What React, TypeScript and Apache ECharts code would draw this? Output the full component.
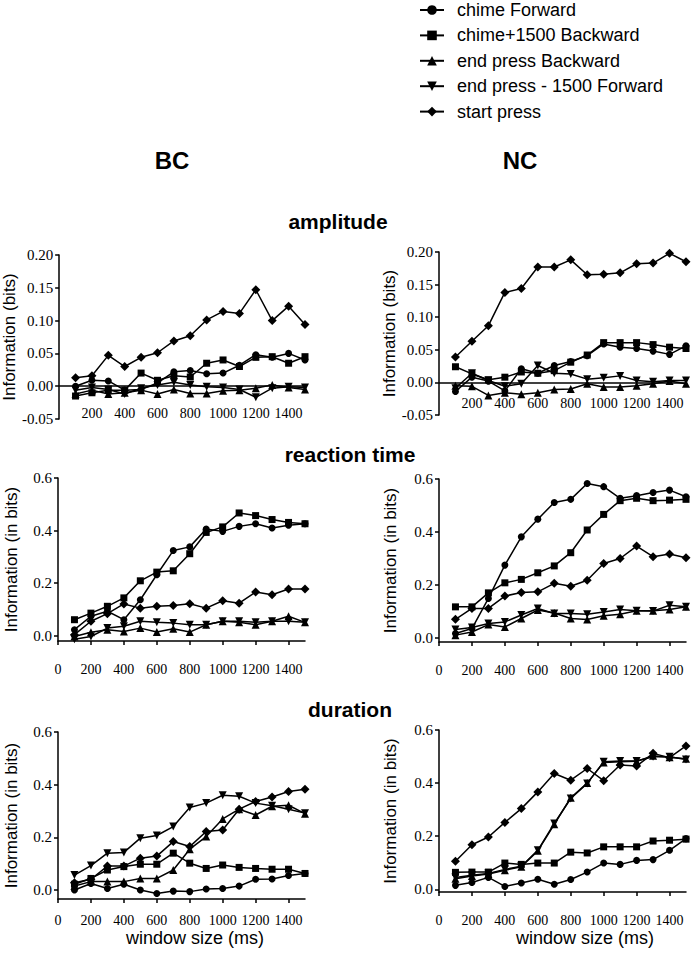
import React, { useEffect, useRef } from "react";
import * as echarts from "echarts";

const X = [100, 200, 300, 400, 500, 600, 700, 800, 900, 1000, 1100, 1200, 1300, 1400, 1500];
const NAMES = ["chime Forward", "chime+1500 Backward", "end press Backward", "end press - 1500 Forward", "start press"];

// amplitude
const AMP_BC_CHIME = [0.000, 0.009, 0.008, -0.006, -0.005, 0.005, 0.022, 0.024, 0.019, 0.020, 0.032, 0.048, 0.044, 0.050, 0.040];
const AMP_BC_CHIME1500 = [-0.015, -0.010, -0.006, -0.006, 0.020, 0.009, 0.016, 0.014, 0.035, 0.040, 0.030, 0.044, 0.045, 0.035, 0.045];
const AMP_BC_ENDB = [-0.012, -0.006, -0.012, -0.010, -0.006, -0.012, -0.005, -0.011, -0.011, -0.007, -0.006, -0.003, 0.002, -0.002, -0.005];
const AMP_BC_ENDF = [-0.006, -0.002, -0.005, -0.012, -0.003, 0.002, 0.006, 0.002, -0.001, -0.002, -0.005, -0.017, -0.003, -0.001, -0.002];
const AMP_BC_START = [0.013, 0.016, 0.047, 0.030, 0.044, 0.051, 0.069, 0.077, 0.101, 0.114, 0.111, 0.147, 0.100, 0.122, 0.094];

const AMP_NC_CHIME = [-0.014, 0.008, 0.002, -0.013, 0.021, 0.014, 0.026, 0.032, 0.041, 0.059, 0.054, 0.052, 0.048, 0.043, 0.056];
const AMP_NC_CHIME1500 = [0.024, 0.013, 0.004, 0.008, 0.016, 0.014, 0.018, 0.031, 0.042, 0.061, 0.061, 0.061, 0.058, 0.054, 0.052];
const AMP_NC_ENDB = [-0.005, -0.006, -0.020, -0.016, -0.018, -0.016, -0.011, -0.010, -0.002, -0.007, -0.007, -0.005, -0.002, 0.002, -0.002];
const AMP_NC_ENDF = [-0.009, 0.014, 0.003, -0.006, -0.002, 0.026, 0.014, 0.013, 0.005, 0.007, 0.010, 0.003, 0.001, 0.003, 0.003];
const AMP_NC_START = [0.039, 0.063, 0.087, 0.138, 0.144, 0.177, 0.177, 0.188, 0.165, 0.166, 0.168, 0.182, 0.183, 0.198, 0.185];

// reaction time
const RT_BC_CHIME = [0.023, 0.074, 0.093, 0.061, 0.137, 0.232, 0.324, 0.338, 0.406, 0.397, 0.416, 0.426, 0.410, 0.420, 0.426];
const RT_BC_CHIME1500 = [0.061, 0.086, 0.112, 0.144, 0.209, 0.242, 0.247, 0.312, 0.393, 0.414, 0.467, 0.457, 0.442, 0.431, 0.426];
const RT_BC_ENDB = [-0.003, 0.013, 0.023, 0.016, 0.029, 0.014, 0.027, 0.014, 0.042, 0.055, 0.051, 0.042, 0.055, 0.074, 0.051];
const RT_BC_ENDF = [-0.013, -0.003, 0.029, 0.036, 0.055, 0.051, 0.048, 0.042, 0.042, 0.055, 0.055, 0.051, 0.055, 0.055, 0.051];
const RT_BC_START = [0.004, 0.055, 0.084, 0.121, 0.105, 0.112, 0.115, 0.122, 0.105, 0.133, 0.124, 0.166, 0.156, 0.178, 0.178];

const RT_NC_CHIME = [0.015, 0.034, 0.148, 0.274, 0.381, 0.448, 0.511, 0.523, 0.583, 0.571, 0.527, 0.537, 0.549, 0.558, 0.533];
const RT_NC_CHIME1500 = [0.116, 0.116, 0.169, 0.207, 0.220, 0.245, 0.271, 0.321, 0.407, 0.466, 0.518, 0.527, 0.518, 0.520, 0.523];
const RT_NC_ENDB = [0.009, 0.021, 0.049, 0.040, 0.072, 0.104, 0.093, 0.072, 0.068, 0.082, 0.088, 0.101, 0.101, 0.106, 0.116];
const RT_NC_ENDF = [0.030, 0.038, 0.053, 0.059, 0.085, 0.110, 0.091, 0.091, 0.088, 0.097, 0.106, 0.101, 0.100, 0.122, 0.116];
const RT_NC_START = [0.069, 0.110, 0.110, 0.157, 0.170, 0.173, 0.205, 0.194, 0.217, 0.280, 0.299, 0.346, 0.306, 0.316, 0.302];

// duration
const DUR_BC_CHIME = [0.000, 0.025, 0.006, 0.022, 0.000, -0.013, -0.004, -0.006, 0.004, 0.006, 0.015, 0.041, 0.042, 0.055, 0.063];
const DUR_BC_CHIME1500 = [0.022, 0.044, 0.076, 0.089, 0.098, 0.098, 0.140, 0.102, 0.082, 0.095, 0.086, 0.082, 0.079, 0.079, 0.063];
const DUR_BC_ENDB = [0.015, 0.032, 0.032, 0.032, 0.044, 0.044, 0.076, 0.155, 0.203, 0.270, 0.307, 0.285, 0.318, 0.322, 0.290];
const DUR_BC_ENDF = [0.057, 0.093, 0.140, 0.143, 0.197, 0.207, 0.241, 0.313, 0.330, 0.360, 0.356, 0.330, 0.320, 0.307, 0.292];
const DUR_BC_START = [0.028, 0.041, 0.091, 0.091, 0.121, 0.129, 0.184, 0.165, 0.222, 0.228, 0.307, 0.336, 0.353, 0.374, 0.383];

const DUR_NC_CHIME = [0.015, 0.026, 0.045, 0.011, 0.024, 0.038, 0.019, 0.037, 0.065, 0.099, 0.094, 0.109, 0.112, 0.147, 0.191];
const DUR_NC_CHIME1500 = [0.064, 0.065, 0.065, 0.099, 0.094, 0.099, 0.099, 0.140, 0.137, 0.160, 0.160, 0.160, 0.182, 0.185, 0.189];
const DUR_NC_ENDB = [0.040, 0.050, 0.058, 0.072, 0.085, 0.145, 0.245, 0.345, 0.400, 0.478, 0.480, 0.482, 0.503, 0.497, 0.492];
const DUR_NC_ENDF = [0.045, 0.053, 0.060, 0.075, 0.087, 0.147, 0.248, 0.342, 0.399, 0.480, 0.483, 0.483, 0.499, 0.499, 0.489];
const DUR_NC_START = [0.106, 0.168, 0.197, 0.252, 0.304, 0.367, 0.436, 0.411, 0.455, 0.409, 0.468, 0.464, 0.512, 0.496, 0.540];

const AMP_Y_TICKS = [-0.05, 0, 0.05, 0.1, 0.15, 0.2];
const INFO_Y_TICKS = [0, 0.2, 0.4, 0.6];
const AMP_X_LABELS = [200, 400, 600, 800, 1000, 1200, 1400];
const X_LABELS = [0, 200, 400, 600, 800, 1000, 1200, 1400];

const SYMBOLS = [
  { symbol: "circle", size: 7, rotate: 0 },
  { symbol: "rect", size: 7, rotate: 0 },
  { symbol: "triangle", size: 8, rotate: 0 },
  { symbol: "triangle", size: 8, rotate: 180 },
  { symbol: "diamond", size: 9, rotate: 0 },
];

const PANELS = [
  { kind: "amp", grid: { left: 58, top: 255, width: 247, height: 164 }, yMin: -0.05, xMargin: -13, nameGap: 38, data: [AMP_BC_CHIME, AMP_BC_CHIME1500, AMP_BC_ENDB, AMP_BC_ENDF, AMP_BC_START] },
  { kind: "amp", grid: { left: 439, top: 252, width: 247, height: 163 }, yMin: -0.05, xMargin: -19, nameGap: 40, data: [AMP_NC_CHIME, AMP_NC_CHIME1500, AMP_NC_ENDB, AMP_NC_ENDF, AMP_NC_START] },
  { kind: "info", grid: { left: 58, top: 478, width: 247, height: 163 }, yMin: -0.02, xMargin: 21, nameGap: 38, data: [RT_BC_CHIME, RT_BC_CHIME1500, RT_BC_ENDB, RT_BC_ENDF, RT_BC_START] },
  { kind: "info", grid: { left: 439, top: 479, width: 247, height: 163 }, yMin: -0.017, xMargin: 21, nameGap: 40, data: [RT_NC_CHIME, RT_NC_CHIME1500, RT_NC_ENDB, RT_NC_ENDF, RT_NC_START] },
  { kind: "info", grid: { left: 58, top: 732, width: 247, height: 167 }, yMin: -0.034, xMargin: 14, nameGap: 38, data: [DUR_BC_CHIME, DUR_BC_CHIME1500, DUR_BC_ENDB, DUR_BC_ENDF, DUR_BC_START] },
  { kind: "info", grid: { left: 439, top: 730, width: 247, height: 162 }, yMin: -0.01, xMargin: 21, nameGap: 40, data: [DUR_NC_CHIME, DUR_NC_CHIME1500, DUR_NC_ENDB, DUR_NC_ENDF, DUR_NC_START] },
];

const SERIF = "Liberation Serif";
const SANS = "Liberation Sans";

function title(text: string, cx: number, top: number, size: number, bold: boolean) {
  return {
    text,
    left: cx,
    top,
    textAlign: "center",
    padding: 0,
    textStyle: { fontFamily: SANS, fontSize: size, fontWeight: bold ? "bold" : "normal", color: "#000" },
  };
}

export default function App() {
  const ref = useRef<HTMLDivElement>(null);
  useEffect(() => {
    if (!ref.current) return;
    const chart = echarts.init(ref.current, null, { renderer: "svg" });
    const axisLineStyle = { color: "#000", width: 1.5 };
    const series: any[] = [];
    PANELS.forEach((p, i) => {
      p.data.forEach((vals, k) => {
        const s: any = {
          type: "line",
          name: NAMES[k],
          xAxisIndex: i,
          yAxisIndex: i,
          data: X.map((x, j) => [x, vals[j]]),
          symbol: SYMBOLS[k].symbol,
          symbolSize: SYMBOLS[k].size,
          symbolRotate: SYMBOLS[k].rotate,
          showSymbol: true,
          itemStyle: { color: "#000" },
          lineStyle: { color: "#000", width: 1.5 },
          emphasis: { disabled: true },
          z: 3,
        };
        if (p.kind === "amp" && k === 0) {
          s.markLine = {
            silent: true,
            symbol: "none",
            label: { show: false },
            lineStyle: { color: "#000", width: 1.5, type: "solid" },
            data: [{ yAxis: 0 }],
          };
        }
        series.push(s);
      });
    });
    const richSerif = (size: number) => ({
      fontFamily: SERIF,
      fontSize: size,
      color: "#000",
      rich: { s: { fontFamily: SERIF, fontSize: size, color: "#000", fontWeight: "normal" } },
    });
    const option: any = {
      animation: false,
      backgroundColor: "#fff",
      legend: {
        orient: "vertical",
        left: 419,
        top: 1,
        padding: 0,
        itemWidth: 24,
        itemHeight: 12,
        itemGap: 7.4,
        data: NAMES,
        selectedMode: false,
        textStyle: { fontFamily: SANS, fontSize: 18, color: "#000", padding: [0, 0, 0, 8] },
      },
      title: [
        title("BC", 172, 148, 24, true),
        title("NC", 520, 148, 24, true),
        title("amplitude", 338, 211, 21, true),
        title("reaction time", 350, 444, 21, true),
        title("duration", 350, 699, 21, true),
        title("window size (ms)", 195, 929, 18, false),
        title("window size (ms)", 585, 929, 18, false),
      ],
      grid: PANELS.map((p) => ({ ...p.grid, containLabel: false })),
      xAxis: PANELS.map((p, i) => ({
        type: "value",
        gridIndex: i,
        min: 0,
        max: 1500,
        position: "bottom",
        splitLine: { show: false },
        axisLine: { show: p.kind !== "amp", onZero: false, lineStyle: axisLineStyle },
        axisTick: {
          show: p.kind !== "amp",
          length: 4,
          customValues: X_LABELS,
          lineStyle: axisLineStyle,
        },
        axisLabel: {
          customValues: p.kind === "amp" ? AMP_X_LABELS : X_LABELS,
          formatter: (v: number) => "{s|" + String(v) + "}",
          margin: p.xMargin,
          ...richSerif(14),
        },
      })),
      yAxis: PANELS.map((p, i) => ({
        type: "value",
        gridIndex: i,
        min: p.yMin,
        max: p.kind === "amp" ? 0.2 : 0.6,
        name: p.kind === "amp" ? "Information (bits)" : "Information (in bits)",
        nameLocation: "middle",
        nameGap: p.nameGap,
        nameTextStyle: { fontFamily: SANS, fontSize: 17, color: "#000" },
        splitLine: { show: false },
        axisLine: { show: true, onZero: false, lineStyle: axisLineStyle },
        axisTick: {
          show: true,
          length: 4,
          customValues: p.kind === "amp" ? AMP_Y_TICKS : INFO_Y_TICKS,
          lineStyle: axisLineStyle,
        },
        axisLabel: {
          customValues: p.kind === "amp" ? AMP_Y_TICKS : INFO_Y_TICKS,
          formatter: (v: number) => "{s|" + (p.kind === "amp" ? v.toFixed(2) : v.toFixed(1)) + "}",
          margin: 6,
          ...richSerif(15),
        },
      })),
      series,
    };
    chart.setOption(option);
    return () => chart.dispose();
  }, []);
  return <div ref={ref} style={{ position: "absolute", left: 0, top: 0, width: 692, height: 956 }} />;
}
